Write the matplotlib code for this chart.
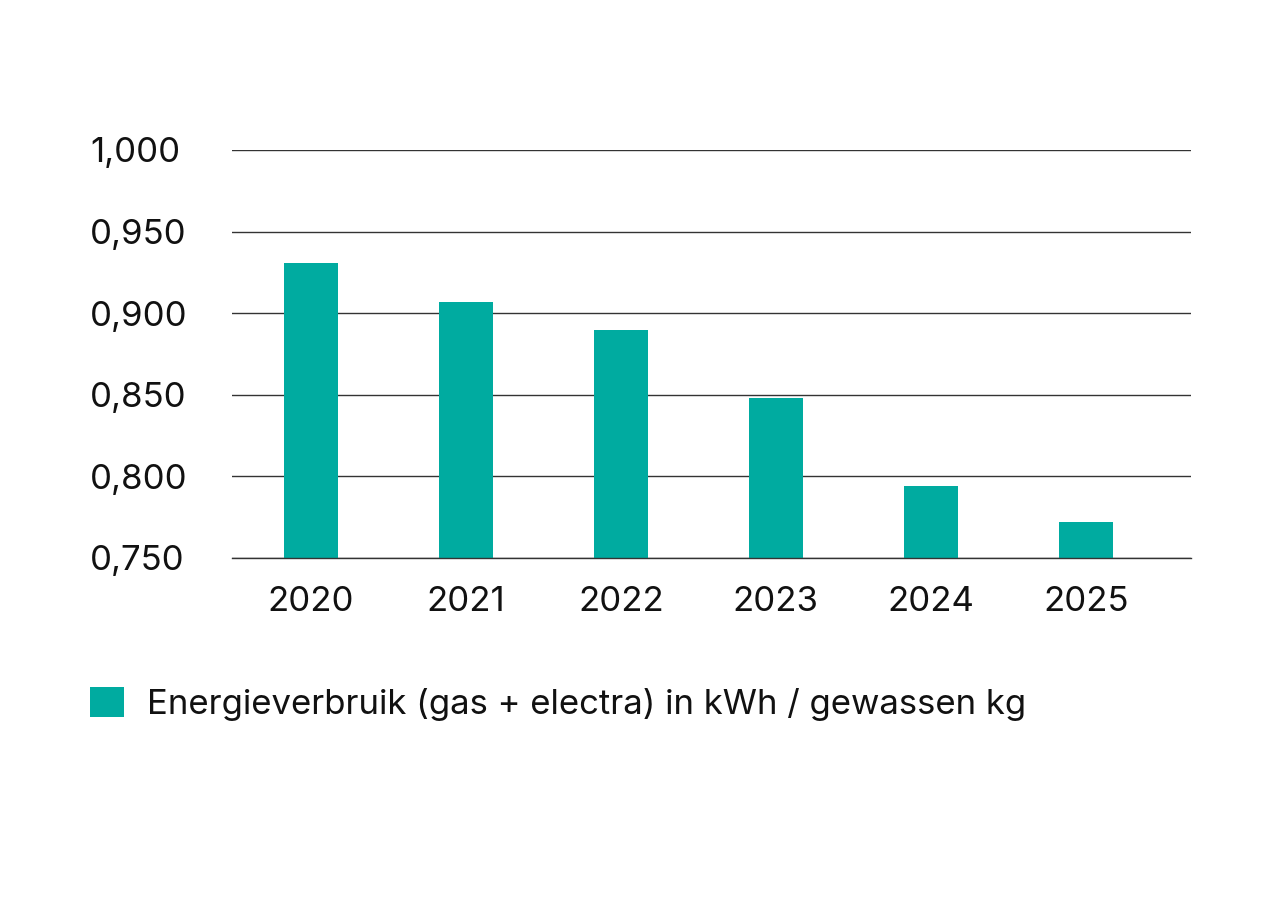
import matplotlib.pyplot as plt

years = ['2020', '2021', '2022', '2023', '2024', '2025']
energie = [0.931, 0.907, 0.890, 0.848, 0.794, 0.772]
yticks = [0.750, 0.800, 0.850, 0.900, 0.950, 1.000]
ytick_labels = ['0,750', '0,800', '0,850', '0,900', '0,950', '1,000']
label = 'Energieverbruik (gas + electra) in kWh / gewassen kg'

plt.rcParams['font.family'] = ['Inter', 'DejaVu Sans']
plt.rcParams['text.color'] = '#111111'

fig = plt.figure(figsize=(12.75, 9), dpi=100)
ax = fig.add_axes([232 / 1275, 1 - 558 / 900, (1191 - 232) / 1275, (558 - 150) / 900])

x = range(len(years))
ax.bar(x, energie, width=0.35, color='#00ABA0', label=label, zorder=3)

ax.set_ylim(0.75, 1.0)
ax.set_xlim(-0.51, 5.68)
ax.set_yticks(yticks)
ax.set_yticklabels(ytick_labels)
ax.set_xticks(list(x))
ax.set_xticklabels(years)
ax.grid(axis='y', color='#333333', linewidth=1.0, zorder=0)
ax.set_axisbelow(True)
for s in ax.spines.values():
    s.set_visible(False)
ax.spines['bottom'].set_visible(True)
ax.spines['bottom'].set_color('#333333')
ax.spines['bottom'].set_linewidth(1.0)
ax.spines['bottom'].set_zorder(4)
ax.tick_params(axis='both', length=0, labelsize=25, colors='#111111')
ax.tick_params(axis='y', pad=102)
for t in ax.get_yticklabels():
    t.set_horizontalalignment('left')
ax.tick_params(axis='x', pad=20)

fig.legend(loc='center left', bbox_to_anchor=(90 / 1275, 1 - 704 / 900),
           frameon=False, fontsize=25, borderpad=0, borderaxespad=0,
           handlelength=0.97, handleheight=0.97, handletextpad=0.68)

fig.savefig('out.png', dpi=100)
